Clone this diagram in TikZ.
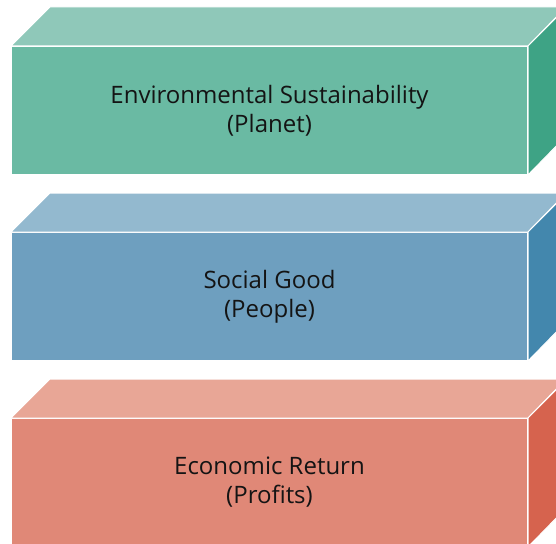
\documentclass[tikz,border=0pt]{standalone}
\usepackage{xcolor}
\usepackage{fontspec}
\setmainfont{Open Sans}
\usepackage{tikz}
\usetikzlibrary{positioning}
\definecolor{planetfront}{HTML}{6ABAA3}
\definecolor{planettop}{HTML}{8FC8B9}
\definecolor{planetside}{HTML}{3EA385}
\definecolor{peoplefront}{HTML}{6E9FBF}
\definecolor{peopletop}{HTML}{93B9CF}
\definecolor{peopleside}{HTML}{4387AD}
\definecolor{profitfront}{HTML}{E08877}
\definecolor{profittop}{HTML}{E8A696}
\definecolor{profitside}{HTML}{D6634E}

\tikzset{
  frontface/.style={draw=white, line width=1pt, inner sep=0pt,
    minimum width=516pt, minimum height=128pt, align=center,
    text=black!92, font=\fontsize{24}{29}\selectfont},
  edgeface/.style={draw=white, line width=1pt, line join=round},
}
% top and side faces of a box: front node, top colour, side colour
\newcommand{\boxfaces}[3]{%
  \filldraw[edgeface, fill=#2] (#1.north west) -- ++(39pt,39pt) -- ++(516pt,0pt) -- (#1.north east) -- cycle;
  \filldraw[edgeface, fill=#3] (#1.north east) -- ++(39pt,39pt) -- ++(0pt,-128pt) -- (#1.south east) -- cycle;
}

\begin{document}
\begin{tikzpicture}
    \clip (0pt,0pt) rectangle (556pt,-543pt);
    \node[frontface, fill=planetfront, anchor=north west] (planet) at (11pt,-46pt)
      {Environmental Sustainability\\(Planet)};
    \node[frontface, fill=peoplefront, below=57pt of planet] (people)
      {Social Good\\(People)};
    \node[frontface, fill=profitfront, below=57pt of people] (profits)
      {Economic Return\\(Profits)};
    \boxfaces{planet}{planettop}{planetside}
    \boxfaces{people}{peopletop}{peopleside}
    \boxfaces{profits}{profittop}{profitside}
  \end{tikzpicture}
\end{document}
